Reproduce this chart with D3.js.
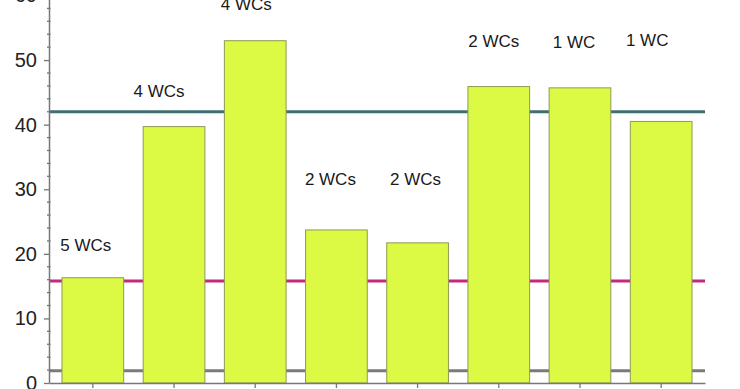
<!DOCTYPE html>
<html>
<head>
<meta charset="utf-8">
<script src="https://cdn.jsdelivr.net/npm/d3@7"></script>
<style>
  body { margin: 0; background: #fff; }
  svg { display: block; font-family: "Liberation Sans", Arial, sans-serif; }
</style>
</head>
<body>
<div id="chart"></div>
<script>
const width = 740;
const height = 389;

// chart data
const categories = ['A', 'B', 'C', 'D', 'E', 'F', 'G', 'H'];
const values = [16.3, 39.7, 53.0, 23.7, 21.7, 45.9, 45.7, 40.5];
const wcLabels = ['5 WCs', '4 WCs', '4 WCs', '2 WCs', '2 WCs', '2 WCs', '1 WC', '1 WC'];
const labelLevels = [20.5, 44.3, 57.8, 30.7, 30.7, 52.0, 51.9, 52.2];
const refValues = [42.0, 15.8, 1.9];
const yTicks = [0, 10, 20, 30, 40, 50, 60];

// small left nudges of the annotations relative to bar centres
const labelShift = [-7, -15, -9, -6, -2, -5, -6, -14];
const refColors = ['#3f6f70', '#c4297f', '#7a7a7a'];

const margin = { left: 49, right: 35, bottom: 6 };

const svg = d3.select('#chart')
    .append('svg')
    .attr('width', width)
    .attr('height', height);

const xScale = d3.scaleBand()
    .domain(categories)
    .range([margin.left, width - margin.right])
    .paddingInner(0.24)
    .paddingOuter(0.16);

const yScale = d3.scaleLinear()
    .domain([0, 60])
    .range([height - margin.bottom, -4.5]);

// reference lines (behind bars)
svg.append('g')
    .selectAll('line')
    .data(refValues)
    .join('line')
    .attr('x1', margin.left)
    .attr('x2', width - margin.right)
    .attr('y1', d => yScale(d))
    .attr('y2', d => yScale(d))
    .attr('stroke', (d, i) => refColors[i])
    .attr('stroke-width', 3);

// bars
svg.append('g')
    .selectAll('rect')
    .data(values)
    .join('rect')
    .attr('x', (d, i) => xScale(categories[i]))
    .attr('y', d => yScale(d))
    .attr('width', xScale.bandwidth())
    .attr('height', d => yScale(0) - yScale(d))
    .attr('fill', '#dcf944')
    .attr('stroke', '#8e9a55')
    .attr('stroke-width', 1);

// y axis, major ticks
const yAxis = svg.append('g')
    .attr('transform', `translate(${margin.left},0)`)
    .call(d3.axisLeft(yScale).tickValues(yTicks).tickSize(5).tickPadding(7).tickSizeOuter(0));

yAxis.select('.domain').attr('stroke', '#777').attr('stroke-width', 1.5);
yAxis.selectAll('.tick line').attr('stroke', '#777').attr('stroke-width', 1.3);
yAxis.selectAll('.tick text')
    .attr('fill', '#222')
    .style('font-size', '20px')
    .style('font-family', '"Liberation Sans", Arial, sans-serif');

// minor ticks every 2
svg.append('g')
    .selectAll('line')
    .data(d3.range(2, 60, 2).filter(d => d % 10 !== 0))
    .join('line')
    .attr('x1', margin.left - 2)
    .attr('x2', margin.left + 1.5)
    .attr('y1', d => yScale(d))
    .attr('y2', d => yScale(d))
    .attr('stroke', '#777')
    .attr('stroke-width', 1.3);

// x axis
const xAxis = svg.append('g')
    .attr('transform', `translate(0,${yScale(0)})`)
    .call(d3.axisBottom(xScale).tickFormat('').tickSize(5).tickSizeOuter(0));

xAxis.select('.domain').attr('stroke', '#777').attr('stroke-width', 1.5);
xAxis.selectAll('.tick line').attr('stroke', '#777').attr('stroke-width', 1.3);

// annotations
svg.append('g')
    .selectAll('text')
    .data(wcLabels)
    .join('text')
    .attr('x', (d, i) => xScale(categories[i]) + xScale.bandwidth() / 2 + labelShift[i])
    .attr('y', (d, i) => yScale(labelLevels[i]))
    .attr('text-anchor', 'middle')
    .attr('fill', '#1a1a1a')
    .style('font-size', '17px')
    .text(d => d);
</script>
</body>
</html>
